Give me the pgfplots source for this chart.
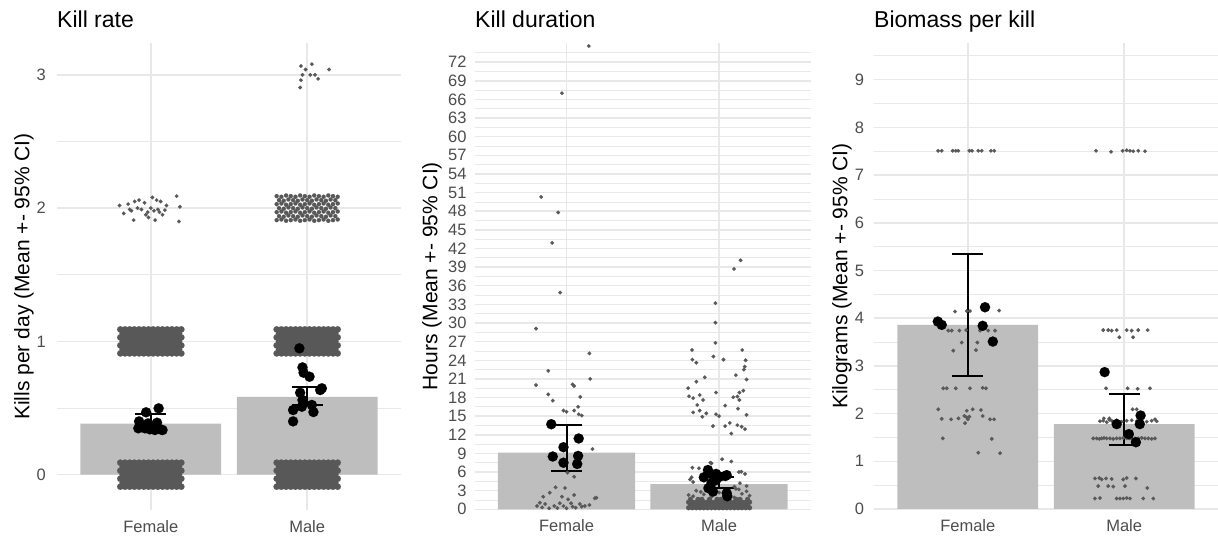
\documentclass[border=0pt]{standalone}
\usepackage{fontspec}
\setmainfont{Liberation Sans}
\usepackage{pgfplots}
\pgfplotsset{compat=1.18}
\definecolor{barg}{RGB}{190,190,190}
\definecolor{ptg}{RGB}{88,88,88}
\definecolor{gridg}{RGB}{232,232,232}
\definecolor{tickg}{RGB}{77,77,77}
\pgfplotsset{
  panel/.style={
    scale only axis, clip=true,
    axis line style={draw=none},
    tick style={draw=none},
    xmin=0.4, xmax=2.6,
    xtick={1,2}, xticklabels={Female,Male},
    xmajorgrids, ymajorgrids, yminorgrids,
    major grid style={draw=gridg, line width=1.5pt},
    minor grid style={draw=gridg, line width=0.8pt},
    /pgf/number format/assume math mode=true,
    tick label style={font=\fontsize{16.5}{18}\selectfont, text=tickg, inner sep=0pt},
    xticklabel style={anchor=north, yshift=-10.5pt},
    every axis y label/.style={rotate=90, anchor=center, font=\fontsize{21}{24}\selectfont},
    title style={at={(rel axis cs:0,1)}, anchor=base west, yshift=9.5pt, inner sep=0pt, font=\fontsize{23}{26}\selectfont},
  },
  jit/.style={only marks, color=ptg, mark=*, mark size=1.9pt, mark options={draw=ptg, fill=ptg, line width=0.1pt}},
  dense/.style={only marks, color=ptg, mark=*, mark size=3.2pt, mark options={draw=ptg, fill=ptg, line width=0.1pt}},
  big/.style={only marks, color=black, mark=*, mark size=5.1pt, mark options={draw=black, fill=black, line width=0.1pt}},
  bars/.style={ybar, bar width=0.9, fill=barg, draw=none},
  eb/.style={black, line width=2pt, mark=none},
}
\begin{document}
\begin{tikzpicture}
\useasboundingbox (0,0) rectangle (1218pt,537pt);
% ---------------- Kill rate ----------------
\begin{axis}[panel, at={(57pt,27pt)}, anchor=south west, width=344pt, height=467pt,
  ymin=-0.265, ymax=3.239, ytick={0,1,2,3}, minor ytick={0.5,1.5,2.5},
  title={Kill rate}, ylabel={Kills per day (Mean +- 95\% CI)},
  ylabel style={at={(axis description cs:-0.096,0.5)}},
  yticklabel style={anchor=east, xshift=-11pt}]
\addplot[bars] coordinates {(1,0.383) (2,0.583)};
% Female at 0
\addplot[dense] coordinates {
(0.805,-0.09)(0.835,-0.09)(0.865,-0.09)(0.895,-0.09)(0.925,-0.09)(0.955,-0.09)(0.985,-0.09)(1.015,-0.09)(1.045,-0.09)(1.075,-0.09)(1.105,-0.09)(1.135,-0.09)(1.165,-0.09)(1.195,-0.09)
(0.82,-0.06)(0.85,-0.06)(0.88,-0.06)(0.91,-0.06)(0.94,-0.06)(0.97,-0.06)(1,-0.06)(1.03,-0.06)(1.06,-0.06)(1.09,-0.06)(1.12,-0.06)(1.15,-0.06)(1.18,-0.06)
(0.805,-0.03)(0.835,-0.03)(0.865,-0.03)(0.895,-0.03)(0.925,-0.03)(0.955,-0.03)(0.985,-0.03)(1.015,-0.03)(1.045,-0.03)(1.075,-0.03)(1.105,-0.03)(1.135,-0.03)(1.165,-0.03)(1.195,-0.03)
(0.82,0)(0.85,0)(0.88,0)(0.91,0)(0.94,0)(0.97,0)(1,0)(1.03,0)(1.06,0)(1.09,0)(1.12,0)(1.15,0)(1.18,0)
(0.805,0.03)(0.835,0.03)(0.865,0.03)(0.895,0.03)(0.925,0.03)(0.955,0.03)(0.985,0.03)(1.015,0.03)(1.045,0.03)(1.075,0.03)(1.105,0.03)(1.135,0.03)(1.165,0.03)(1.195,0.03)
(0.82,0.06)(0.85,0.06)(0.88,0.06)(0.91,0.06)(0.94,0.06)(0.97,0.06)(1,0.06)(1.03,0.06)(1.06,0.06)(1.09,0.06)(1.12,0.06)(1.15,0.06)(1.18,0.06)
(0.805,0.09)(0.835,0.09)(0.865,0.09)(0.895,0.09)(0.925,0.09)(0.955,0.09)(0.985,0.09)(1.015,0.09)(1.045,0.09)(1.075,0.09)(1.105,0.09)(1.135,0.09)(1.165,0.09)(1.195,0.09)
};
% Female at 1
\addplot[dense] coordinates {
(0.805,0.91)(0.835,0.91)(0.865,0.91)(0.895,0.91)(0.925,0.91)(0.955,0.91)(0.985,0.91)(1.015,0.91)(1.045,0.91)(1.075,0.91)(1.105,0.91)(1.135,0.91)(1.165,0.91)(1.195,0.91)
(0.82,0.94)(0.85,0.94)(0.88,0.94)(0.91,0.94)(0.94,0.94)(0.97,0.94)(1,0.94)(1.03,0.94)(1.06,0.94)(1.09,0.94)(1.12,0.94)(1.15,0.94)(1.18,0.94)
(0.805,0.97)(0.835,0.97)(0.865,0.97)(0.895,0.97)(0.925,0.97)(0.955,0.97)(0.985,0.97)(1.015,0.97)(1.045,0.97)(1.075,0.97)(1.105,0.97)(1.135,0.97)(1.165,0.97)(1.195,0.97)
(0.82,1)(0.85,1)(0.88,1)(0.91,1)(0.94,1)(0.97,1)(1,1)(1.03,1)(1.06,1)(1.09,1)(1.12,1)(1.15,1)(1.18,1)
(0.805,1.03)(0.835,1.03)(0.865,1.03)(0.895,1.03)(0.925,1.03)(0.955,1.03)(0.985,1.03)(1.015,1.03)(1.045,1.03)(1.075,1.03)(1.105,1.03)(1.135,1.03)(1.165,1.03)(1.195,1.03)
(0.82,1.06)(0.85,1.06)(0.88,1.06)(0.91,1.06)(0.94,1.06)(0.97,1.06)(1,1.06)(1.03,1.06)(1.06,1.06)(1.09,1.06)(1.12,1.06)(1.15,1.06)(1.18,1.06)
(0.805,1.09)(0.835,1.09)(0.865,1.09)(0.895,1.09)(0.925,1.09)(0.955,1.09)(0.985,1.09)(1.015,1.09)(1.045,1.09)(1.075,1.09)(1.105,1.09)(1.135,1.09)(1.165,1.09)(1.195,1.09)
};
% Male at 0
\addplot[dense] coordinates {
(1.805,-0.09)(1.835,-0.09)(1.865,-0.09)(1.895,-0.09)(1.925,-0.09)(1.955,-0.09)(1.985,-0.09)(2.015,-0.09)(2.045,-0.09)(2.075,-0.09)(2.105,-0.09)(2.135,-0.09)(2.165,-0.09)(2.195,-0.09)
(1.82,-0.06)(1.85,-0.06)(1.88,-0.06)(1.91,-0.06)(1.94,-0.06)(1.97,-0.06)(2,-0.06)(2.03,-0.06)(2.06,-0.06)(2.09,-0.06)(2.12,-0.06)(2.15,-0.06)(2.18,-0.06)
(1.805,-0.03)(1.835,-0.03)(1.865,-0.03)(1.895,-0.03)(1.925,-0.03)(1.955,-0.03)(1.985,-0.03)(2.015,-0.03)(2.045,-0.03)(2.075,-0.03)(2.105,-0.03)(2.135,-0.03)(2.165,-0.03)(2.195,-0.03)
(1.82,0)(1.85,0)(1.88,0)(1.91,0)(1.94,0)(1.97,0)(2,0)(2.03,0)(2.06,0)(2.09,0)(2.12,0)(2.15,0)(2.18,0)
(1.805,0.03)(1.835,0.03)(1.865,0.03)(1.895,0.03)(1.925,0.03)(1.955,0.03)(1.985,0.03)(2.015,0.03)(2.045,0.03)(2.075,0.03)(2.105,0.03)(2.135,0.03)(2.165,0.03)(2.195,0.03)
(1.82,0.06)(1.85,0.06)(1.88,0.06)(1.91,0.06)(1.94,0.06)(1.97,0.06)(2,0.06)(2.03,0.06)(2.06,0.06)(2.09,0.06)(2.12,0.06)(2.15,0.06)(2.18,0.06)
(1.805,0.09)(1.835,0.09)(1.865,0.09)(1.895,0.09)(1.925,0.09)(1.955,0.09)(1.985,0.09)(2.015,0.09)(2.045,0.09)(2.075,0.09)(2.105,0.09)(2.135,0.09)(2.165,0.09)(2.195,0.09)
};
% Male at 1
\addplot[dense] coordinates {
(1.805,0.91)(1.835,0.91)(1.865,0.91)(1.895,0.91)(1.925,0.91)(1.955,0.91)(1.985,0.91)(2.015,0.91)(2.045,0.91)(2.075,0.91)(2.105,0.91)(2.135,0.91)(2.165,0.91)(2.195,0.91)
(1.82,0.94)(1.85,0.94)(1.88,0.94)(1.91,0.94)(1.94,0.94)(1.97,0.94)(2,0.94)(2.03,0.94)(2.06,0.94)(2.09,0.94)(2.12,0.94)(2.15,0.94)(2.18,0.94)
(1.805,0.97)(1.835,0.97)(1.865,0.97)(1.895,0.97)(1.925,0.97)(1.955,0.97)(1.985,0.97)(2.015,0.97)(2.045,0.97)(2.075,0.97)(2.105,0.97)(2.135,0.97)(2.165,0.97)(2.195,0.97)
(1.82,1)(1.85,1)(1.88,1)(1.91,1)(1.94,1)(1.97,1)(2,1)(2.03,1)(2.06,1)(2.09,1)(2.12,1)(2.15,1)(2.18,1)
(1.805,1.03)(1.835,1.03)(1.865,1.03)(1.895,1.03)(1.925,1.03)(1.955,1.03)(1.985,1.03)(2.015,1.03)(2.045,1.03)(2.075,1.03)(2.105,1.03)(2.135,1.03)(2.165,1.03)(2.195,1.03)
(1.82,1.06)(1.85,1.06)(1.88,1.06)(1.91,1.06)(1.94,1.06)(1.97,1.06)(2,1.06)(2.03,1.06)(2.06,1.06)(2.09,1.06)(2.12,1.06)(2.15,1.06)(2.18,1.06)
(1.805,1.09)(1.835,1.09)(1.865,1.09)(1.895,1.09)(1.925,1.09)(1.955,1.09)(1.985,1.09)(2.015,1.09)(2.045,1.09)(2.075,1.09)(2.105,1.09)(2.135,1.09)(2.165,1.09)(2.195,1.09)
};
% Male at 2
\addplot[dense, mark size=2.1pt] coordinates {
(1.805,1.91)(1.835,1.915)(1.865,1.905)(1.895,1.91)(1.925,1.915)(1.955,1.905)(1.985,1.91)(2.015,1.915)(2.045,1.905)(2.075,1.91)(2.105,1.915)(2.135,1.905)(2.165,1.91)(2.195,1.915)
(1.82,1.94)(1.85,1.935)(1.88,1.945)(1.91,1.94)(1.94,1.935)(1.97,1.945)(2,1.94)(2.03,1.935)(2.06,1.945)(2.09,1.94)(2.12,1.935)(2.15,1.945)(2.18,1.94)
(1.805,1.97)(1.835,1.975)(1.865,1.965)(1.895,1.97)(1.925,1.975)(1.955,1.965)(1.985,1.97)(2.015,1.975)(2.045,1.965)(2.075,1.97)(2.105,1.975)(2.135,1.965)(2.165,1.97)(2.195,1.975)
(1.82,2)(1.85,1.995)(1.88,2.005)(1.91,2)(1.94,1.995)(1.97,2.005)(2,2)(2.03,1.995)(2.06,2.005)(2.09,2)(2.12,1.995)(2.15,2.005)(2.18,2)
(1.805,2.03)(1.835,2.035)(1.865,2.025)(1.895,2.03)(1.925,2.035)(1.955,2.025)(1.985,2.03)(2.015,2.035)(2.045,2.025)(2.075,2.03)(2.105,2.035)(2.135,2.025)(2.165,2.03)(2.195,2.035)
(1.82,2.06)(1.85,2.055)(1.88,2.065)(1.91,2.06)(1.94,2.055)(1.97,2.065)(2,2.06)(2.03,2.055)(2.06,2.065)(2.09,2.06)(2.12,2.055)(2.15,2.065)(2.18,2.06)
(1.805,2.09)(1.835,2.085)(1.865,2.095)(1.895,2.09)(1.925,2.085)(1.955,2.095)(1.985,2.09)(2.015,2.085)(2.045,2.095)(2.075,2.09)(2.105,2.085)(2.135,2.095)(2.165,2.09)(2.195,2.085)
};
% sparse points
\addplot[jit] coordinates {
(0.80,2.02)(0.827,1.96)(0.855,2.03)(0.876,1.98)(0.89,1.91)(0.897,2.05)(0.925,2.06)(0.94,1.99)(0.968,1.95)(0.98,1.97)
(1.01,2.08)(1.028,1.91)(1.037,2.06)(1.045,1.99)(1.063,2.05)(1.075,1.95)(1.09,1.985)(1.10,2.02)(1.165,2.09)(1.186,2.01)
(1.18,1.90)(0.915,2.0)(1.0,2.0)(1.055,1.97)(0.96,2.04)(0.865,1.99)(1.02,1.98)(0.985,1.93)
(1.96,3.066)(2.03,3.08)(1.97,3.0)(2.02,3.0)(2.07,2.97)(1.96,2.96)(1.955,2.905)(2.05,3.0)(2.14,3.04)(1.99,3.04)
};
% error bars
\addplot[eb] coordinates {(1,0.325) (1,0.453)};
\addplot[eb] coordinates {(0.9,0.453) (1.1,0.453)};
\addplot[eb] coordinates {(0.9,0.325) (1.1,0.325)};
\addplot[eb] coordinates {(2,0.52) (2,0.66)};
\addplot[eb] coordinates {(1.9,0.66) (2.1,0.66)};
\addplot[eb] coordinates {(1.9,0.52) (2.1,0.52)};
% individual means
\addplot[big] coordinates {
(0.97,0.468)(1.05,0.498)(0.925,0.40)(0.947,0.36)(0.983,0.385)(1.015,0.36)(1.04,0.39)(1.062,0.34)(0.92,0.348)(0.962,0.348)(0.994,0.34)(1.026,0.335)(1.075,0.335)
(1.95,0.948)(1.97,0.805)(2.015,0.735)(1.977,0.765)(2.094,0.648)(2.083,0.635)(1.955,0.615)(1.97,0.56)(1.966,0.51)(2.03,0.523)(1.91,0.485)(2.04,0.47)(1.91,0.40)
};
\end{axis}
% ---------------- Kill duration ----------------
\begin{axis}[panel, at={(475pt,27.7pt)}, anchor=south west, width=335.6pt, height=466.3pt,
  ymin=0, ymax=75.09, ytick={0,3,...,72}, minor ytick={1.5,4.5,...,73.5},
  title={Kill duration}, ylabel={Hours (Mean +- 95\% CI)},
  ylabel style={at={(axis description cs:-0.128,0.5)}},
  yticklabel style={anchor=east, xshift=-8.3pt}]
\addplot[bars] coordinates {(1,9.11) (2,4.07)};
\addplot[jit] coordinates {
(1.146,74.6)(0.97,67.0)(0.834,50.3)(0.945,47.8)(0.906,42.9)(0.958,34.9)(0.80,29.1)(1.15,25.1)(0.88,22.3)(1.155,21.0)
(0.80,20.0)(1.04,20.1)(1.05,19.85)(0.88,18.5)(0.91,17.5)(1.09,18.1)(0.98,15.9)(1.0,15.7)(1.05,15.9)(1.076,16.5)
(1.08,15.3)(1.10,15.1)(1.17,9.7)(1.05,5.25)(1.006,5.9)(0.928,3.54)(0.99,3.43)(0.89,2.68)(0.847,2.03)(0.97,2.03)
(1.05,2.3)(1.01,1.6)(0.825,1.06)(0.86,0.85)(0.92,0.53)(0.956,0.97)(0.98,0.53)(1.03,0.97)(1.04,0.42)(1.087,0.85)
(1.12,0.53)(1.15,0.69)(1.185,1.77)(1.196,1.87)(0.807,0.53)(0.886,0.16)(1.0,0.16)(1.1,0.42)(0.84,0.3)(0.94,0.2)(1.06,0.25)
(1.976,33.2)(1.976,30.05)(1.976,26.8)(1.823,25.65)(2.152,25.65)(1.825,24.1)(1.851,23.6)(1.963,24.6)(2.029,24.1)(2.174,24.0)
(2.168,22.97)(2.163,22.5)(1.851,20.55)(1.906,21.25)(2.11,21.6)(2.18,20.9)(1.797,19.5)(1.803,18.2)(1.83,17.9)(1.873,18.4)
(1.895,17.6)(1.98,18.8)(2.093,18.05)(2.12,18.15)(2.133,18.8)(2.159,19.1)(2.133,17.6)(1.83,15.6)(1.857,16.8)(1.873,15.9)
(1.916,15.45)(1.89,14.9)(1.98,15.3)(2.0,15.0)(2.04,16.7)(2.124,16.2)(1.96,13.4)(2.04,13.4)(2.07,13.9)(2.12,13.55)
(2.148,13.3)(2.17,12.9)(2.08,12.2)(2.18,15.2)(2.141,40.1)(2.098,38.7)
(1.95,7.4)(2.02,8.06)(2.08,7.7)(1.825,6.7)(1.81,4.8)(2.13,6.0)(2.17,5.7)(2.137,4.2)(2.18,3.75)(1.868,6.6)
(1.943,7.5)(2.146,6.05)(1.82,5.15)(2.1,3.64)(2.11,3.3)(1.83,4.4)
(1.83,2.1)(1.9,2.4)(1.95,2.0)(2.05,2.2)(2.15,2.5)(2.18,2.9)(1.85,3.0)(2.1,1.9)(2.0,2.7)(1.88,2.8)(2.13,3.2)(1.97,3.1)(2.2,2.2)(1.8,2.3)
};
\addplot[dense, mark size=2.5pt] coordinates {
(1.8,0.25)(1.825,0.25)(1.85,0.25)(1.875,0.25)(1.9,0.25)(1.925,0.25)(1.95,0.25)(1.975,0.25)(2,0.25)(2.025,0.25)(2.05,0.25)(2.075,0.25)(2.1,0.25)(2.125,0.25)(2.15,0.25)(2.175,0.25)(2.2,0.25)
(1.812,0.7)(1.837,0.7)(1.862,0.7)(1.887,0.7)(1.912,0.7)(1.937,0.7)(1.962,0.7)(1.987,0.7)(2.012,0.7)(2.037,0.7)(2.062,0.7)(2.087,0.7)(2.112,0.7)(2.137,0.7)(2.162,0.7)(2.187,0.7)
(1.8,1.15)(1.825,1.15)(1.85,1.15)(1.875,1.15)(1.9,1.15)(1.925,1.15)(1.95,1.15)(1.975,1.15)(2,1.15)(2.025,1.15)(2.05,1.15)(2.075,1.15)(2.1,1.15)(2.125,1.15)(2.15,1.15)(2.175,1.15)(2.2,1.15)
(1.812,1.6)(1.862,1.6)(1.887,1.6)(1.937,1.6)(1.987,1.6)(2.012,1.6)(2.062,1.6)(2.112,1.6)(2.137,1.6)(2.187,1.6)
};
\addplot[eb] coordinates {(1,6.2) (1,13.5)};
\addplot[eb] coordinates {(0.9,13.5) (1.1,13.5)};
\addplot[eb] coordinates {(0.9,6.2) (1.1,6.2)};
\addplot[eb] coordinates {(2,3.43) (2,5.25)};
\addplot[eb] coordinates {(1.9,5.25) (2.1,5.25)};
\addplot[eb] coordinates {(1.9,3.43) (2.1,3.43)};
\addplot[big] coordinates {
(0.90,13.7)(1.08,11.4)(0.98,10.0)(0.91,8.5)(1.076,8.6)(0.98,7.5)(1.07,7.3)
(1.927,6.33)(1.90,5.15)(1.96,5.5)(2.004,5.25)(2.05,5.5)(1.95,4.2)(1.98,4.7)(1.93,3.4)(1.96,2.85)(2.05,2.6)(2.054,2.1)(1.98,5.7)(2.04,5.36)
};
\end{axis}
% ---------------- Biomass per kill ----------------
\begin{axis}[panel, at={(874pt,28pt)}, anchor=south west, width=344pt, height=466pt,
  ymin=0, ymax=9.77, ytick={0,1,...,9}, minor ytick={0.5,1.5,...,9.5},
  title={Biomass per kill}, ylabel={Kilograms (Mean +- 95\% CI)},
  ylabel style={at={(axis description cs:-0.093,0.5)}},
  yticklabel style={anchor=east, xshift=-9.7pt}]
\addplot[bars] coordinates {(1,3.86) (2,1.78)};
\addplot[jit] coordinates {
(0.822,9.8)(0.882,9.8)
(0.81,7.51)(0.833,7.51)(0.903,7.51)(0.923,7.51)(0.939,7.51)(1.01,7.51)(1.027,7.51)(1.067,7.51)(1.089,7.51)(1.148,7.51)(1.169,7.51)
(0.918,4.14)(0.993,4.15)(1.014,4.15)(1.20,4.16)
(0.875,3.74)(0.897,3.74)(0.946,3.74)(0.989,3.75)(1.078,3.74)(1.13,3.74)(1.174,3.74)
(0.961,3.49)(1.061,3.49)(0.907,3.32)(1.052,3.33)
(0.843,2.53)(0.865,2.53)(0.923,2.53)(1.014,2.53)(1.095,2.54)(1.116,2.53)
(0.811,2.09)(0.993,2.06)(1.031,2.09)(1.084,2.075)
(0.833,1.89)(0.893,1.88)(0.94,1.90)(0.978,1.95)(0.993,1.92)(1.01,1.935)(1.0,1.88)(0.982,1.80)(1.095,1.95)(1.142,1.88)(1.168,1.88)
(0.84,1.48)(1.153,1.47)(1.067,1.18)(1.206,1.17)
(1.82,7.51)(1.916,7.49)(1.99,7.51)(2.016,7.52)(2.037,7.51)(2.058,7.5)(2.09,7.51)(2.133,7.5)
(1.866,3.75)(1.898,3.75)(1.92,3.74)(1.952,3.75)(2.016,3.75)(2.048,3.74)(2.09,3.75)(2.15,3.75)(1.969,3.6)(2.057,3.6)
(1.884,2.53)(2.022,2.53)(2.086,2.52)(2.165,2.53)(2.054,2.09)(2.08,2.09)
(1.845,1.84)(1.866,1.85)(1.888,1.82)(1.905,1.87)(1.92,1.85)(1.952,1.86)(1.984,1.83)(2.016,1.85)(2.048,1.86)(2.08,1.84)
(2.101,1.86)(2.144,1.83)(2.176,1.85)(2.197,1.88)(2.208,1.84)(1.87,1.9)(1.905,1.9)
(1.802,1.48)(1.824,1.48)(1.841,1.47)(1.856,1.48)(1.871,1.49)(1.888,1.48)(1.909,1.48)(1.930,1.47)(1.952,1.48)(1.973,1.48)(1.994,1.49)
(2.016,1.48)(2.033,1.48)(2.048,1.47)(2.069,1.48)(2.090,1.48)(2.112,1.49)(2.133,1.48)(2.154,1.48)(2.176,1.47)(2.197,1.48)
(1.813,0.64)(1.841,0.65)(1.856,0.62)(1.884,0.64)(1.92,0.63)(1.994,0.62)(2.016,0.65)(2.075,0.64)
(1.834,0.48)(1.898,0.48)(1.930,0.47)(2.005,0.48)(2.148,0.44)
(1.813,0.22)(1.845,0.23)(1.952,0.22)(1.973,0.22)(1.994,0.22)(2.016,0.23)(2.037,0.22)(2.122,0.22)(2.186,0.22)
};
\addplot[eb] coordinates {(1,2.79) (1,5.35)};
\addplot[eb] coordinates {(0.9,5.35) (1.1,5.35)};
\addplot[eb] coordinates {(0.9,2.79) (1.1,2.79)};
\addplot[eb] coordinates {(2,1.34) (2,2.41)};
\addplot[eb] coordinates {(1.9,2.41) (2.1,2.41)};
\addplot[eb] coordinates {(1.9,1.34) (2.1,1.34)};
\addplot[big] coordinates {
(0.808,3.93)(0.833,3.86)(1.11,4.23)(1.095,3.84)(1.16,3.51)
(1.875,2.87)(2.105,1.96)(2.10,1.78)(1.952,1.78)(2.03,1.57)(2.075,1.40)
};
\end{axis}
\end{tikzpicture}
\end{document}
